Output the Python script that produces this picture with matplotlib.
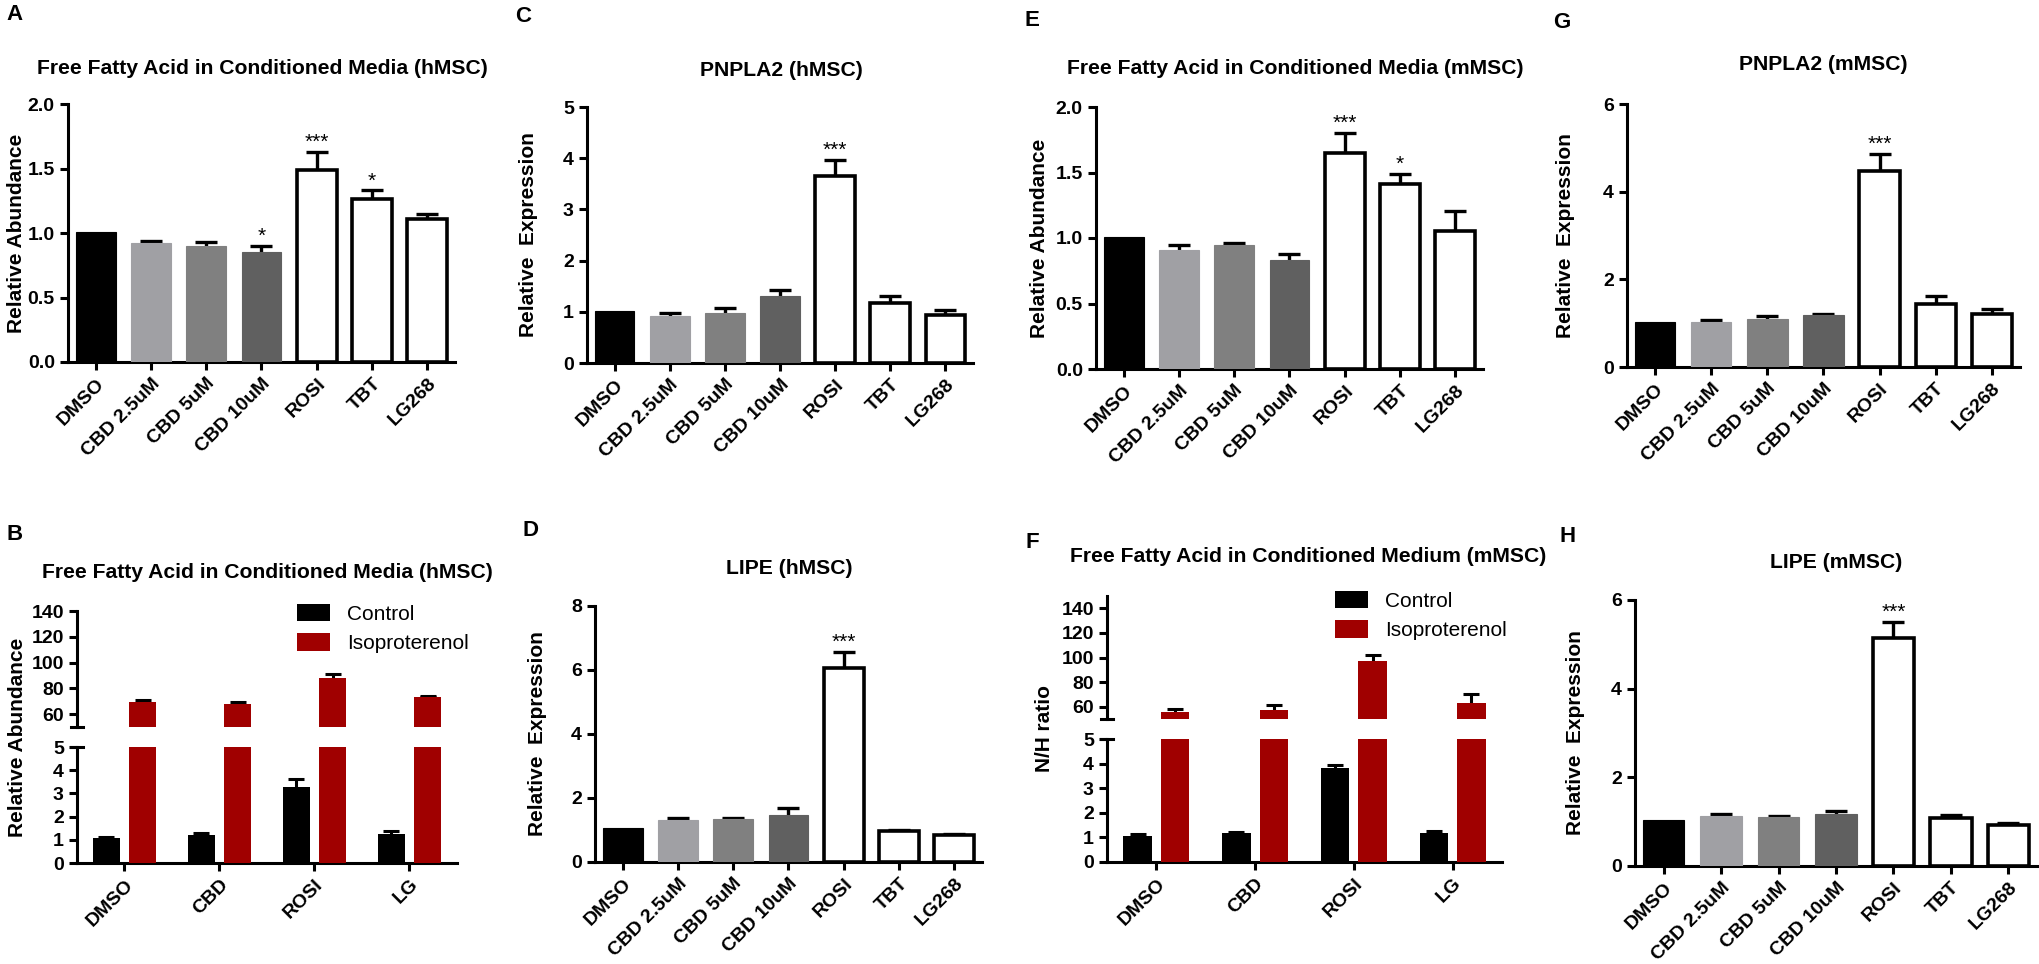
import matplotlib.pyplot as plt
import numpy as np

plt.rcParams.update({
    "font.family": ["Liberation Sans", "DejaVu Sans"],
    "font.weight": "bold",
    "axes.labelweight": "bold",
    "axes.linewidth": 2.2,
    "xtick.major.width": 2.2,
    "ytick.major.width": 2.2,
    "xtick.major.size": 6,
    "ytick.major.size": 6,
    "xtick.labelsize": 14,
    "ytick.labelsize": 14,
})

W, H = 2040, 964

# single-bar panels (A, C, D, E, G, H)
treatments = ["DMSO", "CBD 2.5uM", "CBD 5uM", "CBD 10uM", "ROSI", "TBT", "LG268"]
ffa_h = [1.01, 0.92, 0.90, 0.85, 1.49, 1.26, 1.11]
ffa_h_err = [0, 0.02, 0.03, 0.05, 0.14, 0.07, 0.04]
pnpla2_h = [1.02, 0.91, 0.97, 1.30, 3.65, 1.17, 0.93]
pnpla2_h_err = [0, 0.06, 0.10, 0.13, 0.31, 0.14, 0.10]
lipe_h = [1.06, 1.32, 1.33, 1.48, 6.05, 0.96, 0.84]
lipe_h_err = [0, 0.06, 0.03, 0.21, 0.52, 0.03, 0.03]
ffa_m = [1.01, 0.91, 0.95, 0.835, 1.65, 1.41, 1.055]
ffa_m_err = [0, 0.035, 0.012, 0.045, 0.15, 0.08, 0.15]
pnpla2_m = [1.03, 1.02, 1.10, 1.19, 4.48, 1.43, 1.20]
pnpla2_m_err = [0, 0.05, 0.07, 0.03, 0.39, 0.18, 0.13]
lipe_m = [1.03, 1.13, 1.10, 1.18, 5.14, 1.08, 0.93]
lipe_m_err = [0, 0.05, 0.03, 0.05, 0.37, 0.06, 0.03]

# grouped panels (B, F)
groups = ["DMSO", "CBD", "ROSI", "LG"]
ffa_h_ctrl = [1.07, 1.21, 3.29, 1.26]
ffa_h_ctrl_err = [0.04, 0.10, 0.35, 0.14]
ffa_h_iso = [69.7, 67.7, 88.1, 73.6]
ffa_h_iso_err = [1.0, 1.5, 3.1, 0.5]
ffa_m_ctrl = [1.07, 1.18, 3.82, 1.18]
ffa_m_ctrl_err = [0.07, 0.03, 0.14, 0.09]
ffa_m_iso = [55.9, 57.6, 97.4, 62.7]
ffa_m_iso_err = [2.5, 3.5, 4.3, 7.9]

bar_colors = ["black", "#a0a0a4", "#808080", "#606060", "white", "white", "white"]
bar_edges = ["black", "#a0a0a4", "#808080", "#606060", "black", "black", "black"]
bar_lw = [0.8, 0.8, 0.8, 0.8, 2.6, 2.6, 2.6]
red = "#a00000"

fig = plt.figure(figsize=(W / 100, H / 100), dpi=100)


def box(left, right, top, bottom):
    return [left / W, 1 - bottom / H, (right - left) / W, (bottom - top) / H]


def single_panel(rect, vals, errs, stars, yticks, fmt, ylabel, lab_x):
    ax = fig.add_axes(rect)
    x = np.arange(len(treatments))
    vals = np.array(vals)
    errs = np.array(errs)
    ax.bar(x, vals, width=0.72, color=bar_colors, edgecolor=bar_edges,
           linewidth=bar_lw, zorder=3)
    m = errs > 0
    ax.errorbar(x[m], vals[m], yerr=errs[m], fmt="none", ecolor="black",
                elinewidth=2.4, capsize=8, capthick=2.4, zorder=2)
    for i, s in stars.items():
        ax.annotate(s, (i, vals[i] + errs[i]), xytext=(0, 0), textcoords="offset points",
                    ha="center", va="bottom", fontsize=15, fontweight="normal")
    ax.set_xlim(-0.5, 6.5)
    ax.set_ylim(yticks[0], yticks[-1])
    ax.set_yticks(yticks)
    ax.set_yticklabels([fmt.format(t) for t in yticks])
    ax.set_xticks(x)
    ax.set_xticklabels(treatments, rotation=45, ha="right", va="top", rotation_mode="anchor")
    ax.spines[["top", "right"]].set_visible(False)
    ax.set_ylabel(ylabel, fontsize=15)
    ax.yaxis.set_label_coords(lab_x, 0.5)
    return ax


def broken_panel(rect_t, rect_b, ctrl, ctrl_err, iso, iso_err, top_lim, legend_anchor):
    ax_t = fig.add_axes(rect_t)
    ax_b = fig.add_axes(rect_b)
    x = np.arange(len(groups))
    for ax in (ax_t, ax_b):
        ax.bar(x - 0.19, ctrl, 0.29, color="black", zorder=3, label="Control")
        ax.bar(x + 0.19, iso, 0.29, color=red, zorder=3, label="Isoproterenol")
        ax.errorbar(x - 0.19, ctrl, yerr=ctrl_err, fmt="none", ecolor="black",
                    elinewidth=2.2, capsize=6, capthick=2.2, zorder=2)
        ax.errorbar(x + 0.19, iso, yerr=iso_err, fmt="none", ecolor="black",
                    elinewidth=2.2, capsize=6, capthick=2.2, zorder=2)
        ax.set_xlim(-0.5, 3.5)
        ax.spines[["top", "right"]].set_visible(False)
    ax_t.set_ylim(*top_lim)
    ax_t.set_yticks(np.arange(60, 141, 20))
    ax_t.spines["bottom"].set_visible(False)
    ax_t.set_xticks([])
    ax_b.set_ylim(0, 5)
    ax_b.set_yticks(range(6))
    ax_b.set_xticks(x)
    ax_b.set_xticklabels(groups, rotation=45, ha="right", va="top", rotation_mode="anchor")
    # break marks
    ax_t.plot([-0.016, 0.016], [0, 0], transform=ax_t.transAxes, color="black", lw=2.2, clip_on=False)
    ax_b.plot([-0.016, 0.016], [1, 1], transform=ax_b.transAxes, color="black", lw=2.2, clip_on=False)
    ax_t.legend(loc="upper left", bbox_to_anchor=legend_anchor, frameon=False,
                borderaxespad=0, borderpad=0, handlelength=1.6, handleheight=0.9,
                handletextpad=0.8, labelspacing=0.45,
                prop={"weight": "normal", "size": 15})
    return ax_t, ax_b


single_panel(box(68, 455, 104, 362), ffa_h, ffa_h_err, {3: "*", 4: "***", 5: "*"},
             [0.0, 0.5, 1.0, 1.5, 2.0], "{:.1f}", "Relative Abundance", -0.109)
single_panel(box(587, 973, 107, 363), pnpla2_h, pnpla2_h_err, {4: "***"},
             [0, 1, 2, 3, 4, 5], "{:d}", "Relative  Expression", -0.127)
single_panel(box(595, 982, 606, 862), lipe_h, lipe_h_err, {4: "***"},
             [0, 2, 4, 6, 8], "{:d}", "Relative  Expression", -0.124)
single_panel(box(1096, 1483, 107, 369), ffa_m, ffa_m_err, {4: "***", 5: "*"},
             [0.0, 0.5, 1.0, 1.5, 2.0], "{:.1f}", "Relative Abundance", -0.121)
single_panel(box(1627, 2020, 104, 367), pnpla2_m, pnpla2_m_err, {4: "***"},
             [0, 2, 4, 6], "{:d}", "Relative  Expression", -0.132)
single_panel(box(1635, 2037, 600, 866), lipe_m, lipe_m_err, {4: "***"},
             [0, 2, 4, 6], "{:d}", "Relative  Expression", -0.124)

broken_panel(box(77, 457, 611, 727), box(77, 457, 747, 863),
             ffa_h_ctrl, ffa_h_ctrl_err, ffa_h_iso, ffa_h_iso_err, (50, 140), (0.579, 1.06))
broken_panel(box(1107, 1502, 596, 719), box(1107, 1502, 739, 862),
             ffa_m_ctrl, ffa_m_ctrl_err, ffa_m_iso, ffa_m_iso_err, (50, 150), (0.577, 1.04))

fig.text(27 / W, 1 - 737 / H, "Relative Abundance", rotation=90, ha="right", va="center", fontsize=15)
fig.text(1054 / W, 1 - 729 / H, "N/H ratio", rotation=90, ha="right", va="center", fontsize=15)

titles = [
    (262, 68, "Free Fatty Acid in Conditioned Media (hMSC)"),
    (267, 573, "Free Fatty Acid in Conditioned Media (hMSC)"),
    (781, 70, "PNPLA2 (hMSC)"),
    (789, 568, "LIPE (hMSC)"),
    (1295, 68, "Free Fatty Acid in Conditioned Media (mMSC)"),
    (1308, 557, "Free Fatty Acid in Conditioned Medium (mMSC)"),
    (1823, 65, "PNPLA2 (mMSC)"),
    (1836, 562, "LIPE (mMSC)"),
]
for cx, cy, t in titles:
    fig.text(cx / W, 1 - cy / H, t, ha="center", va="center", fontsize=15.2)

letters = [(15, 14, "A"), (15, 535, "B"), (523, 16, "C"), (530, 530, "D"),
           (1032, 21, "E"), (1032, 542, "F"), (1562, 22, "G"), (1568, 537, "H")]
for lx, ly, s in letters:
    fig.text(lx / W, 1 - ly / H, s, ha="center", va="center", fontsize=16)

fig.savefig("out.png", dpi=100)
